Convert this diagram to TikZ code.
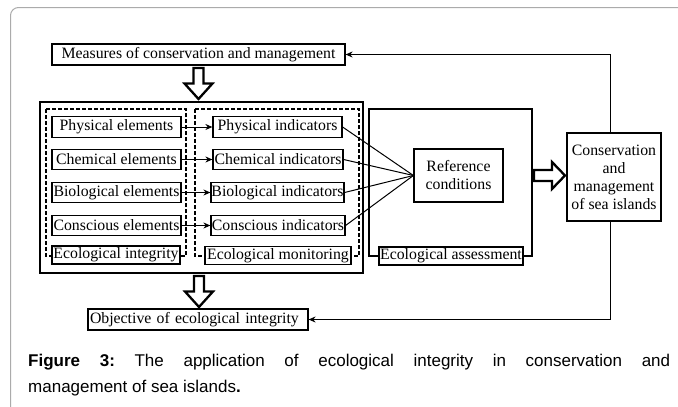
\documentclass[tikz,border=0pt]{standalone}
\usepackage{fontspec}
\setmainfont{Liberation Serif}
\newfontfamily\capfont{Liberation Sans}
\usetikzlibrary{arrows.meta,calc}
\frenchspacing
\begin{document}
\begin{tikzpicture}[x=1pt,y=-1pt,
  box/.style={draw,line width=1.2pt,inner sep=0pt,fill=white,align=center,
    font=\fontsize{15.8}{18}\selectfont},
  dbox/.style={draw,line width=1.2pt,dash pattern=on 4pt off 2pt},
  conn/.style={line width=1pt},
  arr/.style={line width=1pt,-{Stealth[length=7pt,width=6pt]}},
  hollow/.style={draw,fill=white,line width=2.3pt,miter limit=10},
  hdown/.pic={\path[hollow] (-5,0) -- (5,0) -- (5,15.5) -- (14,15.5) -- (0,31) -- (-14,15.5) -- (-5,15.5) -- cycle;},
  hright/.pic={\path[hollow] (0,-5.5) -- (18,-5.5) -- (18,-13.5) -- (31,0) -- (18,13.5) -- (18,5.5) -- (0,5.5) -- cycle;}
]
\useasboundingbox (0,0) rectangle (678,407);
% page frame
\draw[black!33,line width=1pt,rounded corners=8pt] (10.5,407) -- (10.5,7.5) -- (678,7.5);

% containers
\draw[line width=2pt] (40,102) rectangle (363,273);
\draw[dbox] (46,109) rectangle (186,256);
\draw[dbox] (195,109) rectangle (359,256);
\draw[line width=1.2pt] (369,109) rectangle (532,256);

% top box
\node[box,minimum width=293pt,minimum height=21pt] (meas) at (198.5,54.5) {Measures of conservation and management};

% elements
\node[box,minimum width=129pt,minimum height=20.5pt] (phe) at (116.5,127) {Physical elements};
\node[box,minimum width=129pt,minimum height=20.5pt] (che) at (116.5,159.5) {Chemical elements};
\node[box,minimum width=129pt,minimum height=20.5pt] (bie) at (116.5,192.5) {Biological elements};
\node[box,minimum width=129pt,minimum height=20.5pt] (coe) at (116.5,225.5) {Conscious elements};

% indicators
\node[box,minimum width=129pt,minimum height=20.5pt] (phi) at (277.5,127) {Physical indicators};
\node[box,minimum width=130pt,minimum height=20.5pt] (chi) at (278,159.5) {Chemical indicators};
\node[box,minimum width=133pt,minimum height=20.5pt] (bii) at (277.5,192.5) {Biological indicators};
\node[box,minimum width=134pt,minimum height=20.5pt] (coi) at (278,225.5) {Conscious indicators};

% labels on container edges
\node[box,minimum width=128pt,minimum height=18pt] (integ) at (116,255) {Ecological integrity};
\node[box,minimum width=146pt,minimum height=18pt] (monit) at (278,255.5) {Ecological monitoring};
\node[box,minimum width=144pt,minimum height=18pt] (assess) at (451,256) {Ecological assessment};

% reference and conservation
\node[box,minimum width=89pt,minimum height=53pt] (ref) at (458.5,175.5) {Reference\\conditions};
\node[box,minimum width=94pt,minimum height=88pt] (cons) at (614,177) {Conservation\\and\\management\\of sea islands};

% objective
\node[box,text width=216pt,inner xsep=2pt,minimum height=21pt,align=left] (obj) at (198,319.5) {Objective of ecological integrity};

% element -> indicator arrows
\draw[arr] (phe.east) -- (phi.west);
\draw[arr] (che.east) -- (chi.west);
\draw[arr] (bie.east) -- (bii.west);
\draw[arr] (coe.east) -- (coi.west);

% indicators -> reference
\draw[conn] (phi.east) -- (ref.west);
\draw[conn] (chi.east) -- (ref.west);
\draw[conn] (bii.east) -- (ref.west);
\draw[conn] (coi.east) -- (ref.west);

% feedback lines
\coordinate (rt) at (610,0);
\draw[arr] (cons.north -| rt) |- (meas.east);
\draw[arr] (cons.south -| rt) |- (obj.east);

% hollow arrows
\pic at (198.5,68) {hdown};
\pic at (199,276) {hdown};
\pic at (534,175.5) {hright};

% caption
\node[anchor=base west,inner sep=0pt,font=\capfont\fontsize{17}{26}\selectfont] (cap1) at (28,366)
  {\makebox[642pt][s]{\textbf{Figure 3:} The application of ecological integrity in conservation and}};
\node[anchor=base west,inner sep=0pt,font=\capfont\fontsize{17}{26}\selectfont] (cap2) at (28,392)
  {management of sea islands\textbf{.}};
\end{tikzpicture}
\end{document}
